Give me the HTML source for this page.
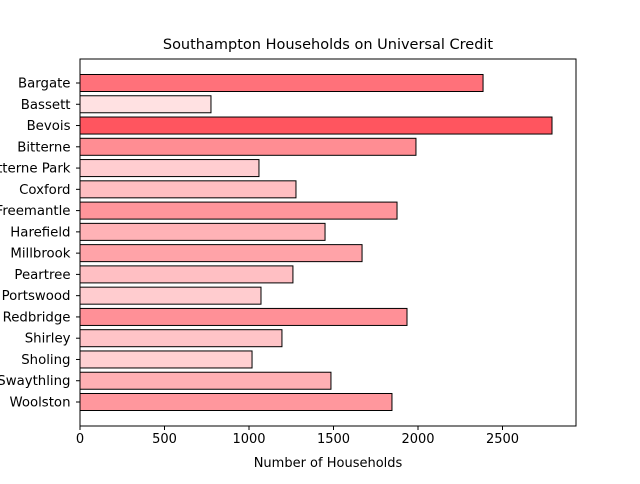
<!DOCTYPE html>
<html><head><meta charset="utf-8"><style>
body{margin:0;background:#fff;font-family:"DejaVu Sans","Liberation Sans",sans-serif}
</style></head><body>
<svg id="chart" width="640" height="480" xmlns="http://www.w3.org/2000/svg">
<rect width="640" height="480" fill="#fff"/>
<text x="328" y="49" font-size="14.5" text-anchor="middle">Southampton Households on Universal Credit</text>
<g id="bars"></g>
<g id="yticks"></g>
<g id="xticks"></g>
<rect x="80" y="59" width="496" height="367" fill="none" stroke="#000" stroke-width="1"/>
<text x="328" y="467" font-size="13" text-anchor="middle">Number of Households</text>
</svg>
<script>
const categories=["Bargate","Bassett","Bevois","Bitterne","Bitterne Park","Coxford","Freemantle","Harefield","Millbrook","Peartree","Portswood","Redbridge","Shirley","Sholing","Swaythling","Woolston"];
const values=[2385,775,2793,1988,1059,1278,1876,1450,1669,1260,1071,1935,1195,1018,1485,1846];
const xTicks=[0,500,1000,1500,2000,2500];
const NS="http://www.w3.org/2000/svg";
const L=80,R=576,T=59,B=426,xMax=2935;
const x=v=>L+v/xMax*(R-L);
const n=categories.length;
const y0=83,y1=402;
const step=(y1-y0)/(n-1);
const yc=i=>y0+i*step;
const vmin=Math.min(...values)-75,vmax=Math.max(...values);
function mk(t,a,p){const e=document.createElementNS(NS,t);for(const k in a)e.setAttribute(k,a[k]);p.appendChild(e);return e;}
const gb=document.getElementById('bars'),gy=document.getElementById('yticks'),gx=document.getElementById('xticks');
categories.forEach((c,i)=>{
 const v=values[i];const t=(v-vmin)/(vmax-vmin);
 const g=Math.round(230-t*145),b=Math.round(231-t*136);
 const r=mk('rect',{x:x(0),y:yc(i)-step*0.4,width:x(v)-x(0),height:step*0.8,fill:`rgb(255,${g},${b})`,stroke:'#000','stroke-width':1},gb);
 
 
 mk('line',{x1:L-4,x2:L,y1:yc(i),y2:yc(i),stroke:'#000'},gy);
 const tx=mk('text',{x:L-9.5,y:yc(i)+4.5,'font-size':13.3,'text-anchor':'end'},gy);
 tx.textContent=c;
 
 
});
xTicks.forEach(v=>{
 mk('line',{x1:x(v),x2:x(v),y1:B,y2:B+4,stroke:'#000'},gx);
 const tx=mk('text',{x:x(v),y:B+17,'font-size':13,'text-anchor':'middle'},gx);
 tx.textContent=v;
 
 
});
</script>
</body></html>
